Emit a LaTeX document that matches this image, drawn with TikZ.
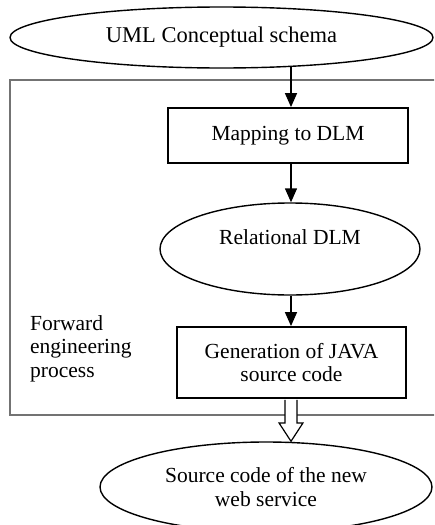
\documentclass[tikz,border=0pt]{standalone}
\usepackage{fontspec}
\setmainfont{Liberation Serif}
\usetikzlibrary{shapes.geometric,arrows.meta,calc}
\begin{document}
\begin{tikzpicture}[x=1pt,y=-1pt,
  font=\fontsize{21.5}{23.5}\selectfont,
  ell/.style={draw, ellipse, line width=1.4pt, inner sep=0pt},
  boxn/.style={draw, rectangle, line width=1.8pt, inner sep=0pt, align=center},
  arr/.style={-{Triangle[length=14pt,width=12pt]}, line width=1.4pt},
  txt/.style={inner sep=0pt, align=center},
  framebox/.style={draw=black!55, line width=1.2pt}]
\useasboundingbox (0,0) rectangle (434,525);
\clip (0,0) rectangle (434,525);
\draw[framebox] (10,80) rectangle (440,415);
\node[ell, minimum width=423pt, minimum height=61pt, font=\fontsize{22.5}{24}\selectfont] (uml) at (221.5,37.5) {UML Conceptual schema};
\node[boxn, minimum width=240pt, minimum height=55pt] (map) at (288,135.5) {Mapping to DLM};
\node[ell, minimum width=260pt, minimum height=92pt] (rel) at (290,249) {};
\node[txt] (reltext) at (290,237) {Relational DLM};
\node[boxn, minimum width=229pt, minimum height=71pt] (gen) at (291.5,362.5) {Generation of JAVA\\source code};
\node[ell, minimum width=332pt, minimum height=90pt, align=center] (src) at (266,487) {Source code of the new\\web service};
\node[txt, align=left, anchor=north west] (fwd) at (30,315) {Forward\\engineering\\process};
\coordinate (c) at (291,0);
\draw[arr, shorten <=-1.5pt] (uml.south -| c) -- (map.north -| c);
\draw[arr] (map.south -| c) -- (rel.north -| c);
\draw[arr] (rel.south -| c) -- (gen.north -| c);
\draw[line width=1.2pt, fill=white, line join=miter]
  ($(gen.south -| c)+(-6,1)$) -- ++(0,23) -- ++(-6,0) -- (src.north -| c)
  -- ($(gen.south -| c)+(12,24)$) -- ++(-6,0) -- ++(0,-23);
\end{tikzpicture}
\end{document}
